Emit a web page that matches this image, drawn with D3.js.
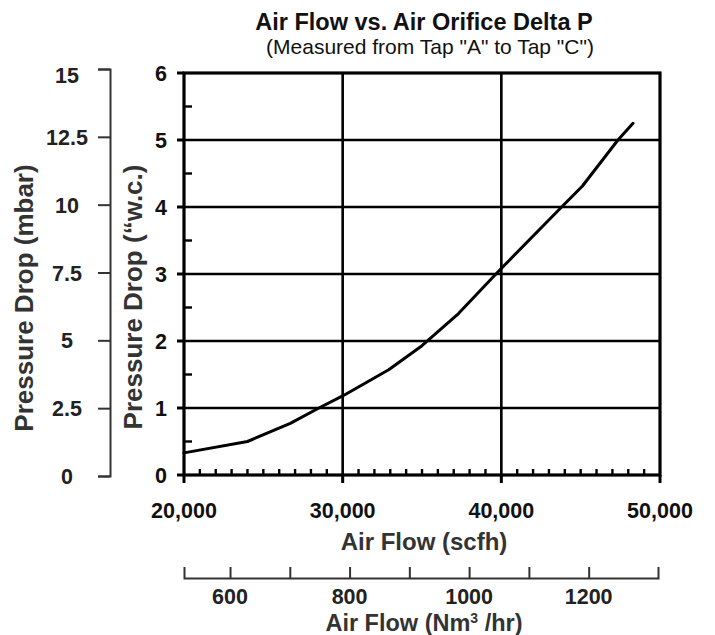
<!DOCTYPE html>
<html><head><meta charset="utf-8">
<script src="https://cdn.jsdelivr.net/npm/d3@7"></script>
<style>
body{margin:0;background:#fff}
svg text{font-family:"Liberation Sans",Arial,Helvetica,sans-serif}
</style>
</head><body>
<svg id="chart" width="715" height="635"></svg>
<script>
// ---- data ----
const flowScfh = [20000, 24000, 26700, 28500, 30000, 32900, 35000, 37300, 39900, 43800, 45100, 47350, 48300];
const dropWc   = [0.33, 0.50, 0.77, 1.00, 1.18, 1.57, 1.93, 2.41, 3.06, 4.00, 4.31, 5.00, 5.25];
const xTicks = [20000, 30000, 40000, 50000];
const yTicks = [0, 1, 2, 3, 4, 5, 6];
const mbarTicks = [0, 2.5, 5, 7.5, 10, 12.5, 15];
const nmTicks = [600, 700, 800, 900, 1000, 1100, 1200];
const nmLabels = [600, 800, 1000, 1200];
const titleText = "Air Flow vs. Air Orifice Delta P";
const subtitleText = '(Measured from Tap "A" to Tap "C")';

const svg = d3.select("#chart");
const L = 184, R = 660, T = 73, B = 475;

const x = d3.scaleLinear().domain([20000, 50000]).range([L, R]);
const y = d3.scaleLinear().domain([0, 6]).range([B, T]);
const yMbar = d3.scaleLinear().domain([0, 15]).range([B + 1, 69]);
const xNm = d3.scaleLinear().domain([523, 1316]).range([L, 658]);

// title
svg.append("text").attr("x", 424).attr("y", 30).attr("text-anchor", "middle")
  .attr("font-size", 23.5).attr("font-weight", "bold").attr("fill", "#111").text(titleText);
svg.append("text").attr("x", 430).attr("y", 54).attr("text-anchor", "middle")
  .attr("font-size", 21).attr("fill", "#111").text(subtitleText);

// gridlines
const g = svg.append("g");
g.selectAll(".hg").data(yTicks.filter(d => d > 0 && d < 6)).join("line")
  .attr("x1", L).attr("x2", R).attr("y1", d => y(d)).attr("y2", d => y(d))
  .attr("stroke", "#000").attr("stroke-width", 2.6);
g.selectAll(".vg").data(xTicks.filter(d => d > 20000 && d < 50000)).join("line")
  .attr("y1", T).attr("y2", B).attr("x1", d => x(d)).attr("x2", d => x(d))
  .attr("stroke", "#000").attr("stroke-width", 2.6);

// minor ticks (inside)
const xMinor = d3.range(21000, 50000, 1000).filter(d => d % 10000 !== 0);
g.selectAll(".xm").data(xMinor).join("line")
  .attr("x1", d => x(d)).attr("x2", d => x(d)).attr("y1", B).attr("y2", B - 6)
  .attr("stroke", "#000").attr("stroke-width", 2.4);
const yMinor = d3.range(0.5, 6, 1);
g.selectAll(".ym").data(yMinor).join("line")
  .attr("x1", L).attr("x2", L + 8).attr("y1", d => y(d)).attr("y2", d => y(d))
  .attr("stroke", "#000").attr("stroke-width", 2.4);

// major ticks outside
g.selectAll(".xM").data(xTicks).join("line")
  .attr("x1", d => x(d)).attr("x2", d => x(d)).attr("y1", B).attr("y2", B + 8)
  .attr("stroke", "#000").attr("stroke-width", 3);
g.selectAll(".yM").data(yTicks).join("line")
  .attr("x1", L - 7).attr("x2", L).attr("y1", d => y(d)).attr("y2", d => y(d))
  .attr("stroke", "#000").attr("stroke-width", 3);

// border
svg.append("rect").attr("x", L).attr("y", T).attr("width", R - L).attr("height", B - T)
  .attr("fill", "none").attr("stroke", "#000").attr("stroke-width", 3.2);

// curve
const pts = flowScfh.map((f, i) => [f, dropWc[i]]);
svg.append("path").datum(pts)
  .attr("d", d3.line().x(d => x(d[0])).y(d => y(d[1])).curve(d3.curveLinear))
  .attr("fill", "none").attr("stroke", "#000").attr("stroke-width", 3).attr("stroke-linejoin", "round").attr("stroke-linecap", "round");

// x tick labels
svg.selectAll(".xl").data(xTicks).join("text")
  .attr("x", d => x(d)).attr("y", 518).attr("text-anchor", "middle")
  .attr("font-size", 21.5).attr("font-weight", "bold").attr("fill", "#111")
  .text(d => d3.format(",")(d));
// y tick labels (w.c.)
svg.selectAll(".yl").data(yTicks).join("text")
  .attr("x", 167).attr("y", d => y(d) + 8).attr("text-anchor", "end")
  .attr("font-size", 21.5).attr("font-weight", "bold").attr("fill", "#111")
  .text(d => d);

// mbar axis
const mbarAxis = d3.axisLeft(yMbar).tickValues(mbarTicks).tickSize(12).tickSizeOuter(12).tickPadding(0).tickFormat(() => "");
const ma = svg.append("g").attr("transform", "translate(110,0)").call(mbarAxis);
ma.selectAll("path,line").attr("stroke", "#333").attr("stroke-width", 2);
svg.selectAll(".ml").data(mbarTicks).join("text")
  .attr("x", 67).attr("y", d => yMbar(d) + (d === 15 ? 14 : 8)).attr("text-anchor", "middle")
  .attr("font-size", 21.5).attr("font-weight", "bold").attr("fill", "#222")
  .text(d => d);

// Nm3/hr axis
const nmAxis = d3.axisBottom(xNm).tickValues(nmTicks).tickSize(-11).tickSizeOuter(-11).tickFormat(() => "");
const na = svg.append("g").attr("transform", "translate(0,578)").call(nmAxis);
na.selectAll("path,line").attr("stroke", "#333").attr("stroke-width", 2);
svg.selectAll(".nl").data(nmLabels).join("text")
  .attr("x", d => xNm(d)).attr("y", 604).attr("text-anchor", "middle")
  .attr("font-size", 21.5).attr("font-weight", "bold").attr("fill", "#222")
  .text(d => d);

// axis titles
svg.append("text").attr("x", 424).attr("y", 550).attr("text-anchor", "middle")
  .attr("font-size", 24).attr("font-weight", "bold").attr("fill", "#333").text("Air Flow (scfh)");
const nmT = svg.append("text").attr("x", 424).attr("y", 631).attr("text-anchor", "middle")
  .attr("font-size", 23.5).attr("font-weight", "bold").attr("fill", "#333");
nmT.append("tspan").text("Air Flow (Nm");
nmT.append("tspan").attr("dy", -8).attr("font-size", 14).text("3");
nmT.append("tspan").attr("dy", 8).text(" /hr)");

svg.append("text").attr("transform", "translate(33,298) rotate(-90)").attr("text-anchor", "middle")
  .attr("font-size", 26).attr("font-weight", "bold").attr("fill", "#333").text("Pressure Drop (mbar)");
svg.append("text").attr("transform", "translate(142,297) rotate(-90)").attr("text-anchor", "middle")
  .attr("font-size", 26).attr("font-weight", "bold").attr("fill", "#333").text("Pressure Drop (\u201Cw.c.)");
</script>
</body></html>
